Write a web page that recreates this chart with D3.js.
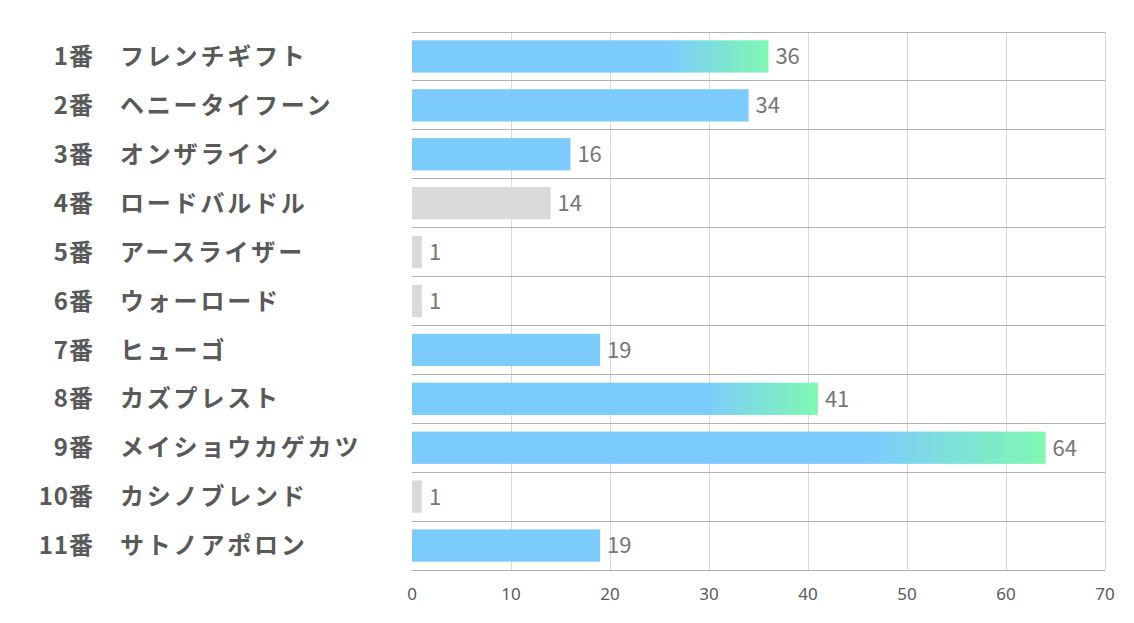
<!DOCTYPE html>
<html><head><meta charset="utf-8">
<script src="https://cdn.jsdelivr.net/npm/d3@7"></script>
<style>body{margin:0;background:#fff;}svg{display:block;}</style>
</head><body>
<svg id="c" width="1134" height="623"></svg>
<script>
const numbers = ["1番","2番","3番","4番","5番","6番","7番","8番","9番","10番","11番"];
const names = ["フレンチギフト","ヘニータイフーン","オンザライン","ロードバルドル","アースライザー","ウォーロード","ヒューゴ","カズプレスト","メイショウカゲカツ","カシノブレンド","サトノアポロン"];
const values = [36,34,16,14,1,1,19,41,64,1,19];
const colorType = ["grad","blue","blue","gray","gray","gray","blue","grad","grad","gray","blue"];
const ticks = [0,10,20,30,40,50,60,70];

const svg = d3.select("#c");
const L = 412, R = 1105, T = 32, B = 570;
const x = d3.scaleLinear().domain([0,70]).range([L,R]);
const y = d3.scaleBand().domain(d3.range(values.length)).range([T,B]).paddingInner(0.34).paddingOuter(0.17);
const step = y.step();
const font = "'Noto Sans CJK JP','Noto Sans',sans-serif";

const defs = svg.append("defs");
values.forEach((v,i)=>{
  if(colorType[i]!=="grad") return;
  const g = defs.append("linearGradient").attr("id","g"+i).attr("x1","0").attr("x2","1").attr("y1","0").attr("y2","0");
  g.append("stop").attr("offset","0").attr("stop-color","#7ccbfd");
  g.append("stop").attr("offset","0.72").attr("stop-color","#7ccbfd");
  g.append("stop").attr("offset","1").attr("stop-color","#7ff8b2");
});

// vertical grid
svg.append("g").selectAll("line").data(ticks).join("line")
  .attr("x1",d=>x(d)).attr("x2",d=>x(d)).attr("y1",T).attr("y2",B)
  .attr("stroke",d=>d===0?"none":"#d9d9d9").attr("stroke-width",1).attr("shape-rendering","crispEdges");

// horizontal row lines
svg.append("g").selectAll("line").data(d3.range(values.length+1)).join("line")
  .attr("x1",L).attr("x2",R)
  .attr("y1",d=>T+d*step).attr("y2",d=>T+d*step)
  .attr("stroke","#b0b0b0").attr("stroke-width",1).attr("shape-rendering","crispEdges");

// bars
svg.append("g").selectAll("rect").data(values).join("rect")
  .attr("x",x(0)).attr("y",(d,i)=>y(i))
  .attr("width",d=>x(d)-x(0)).attr("height",y.bandwidth())
  .attr("fill",(d,i)=>colorType[i]==="grad"?`url(#g${i})`:(colorType[i]==="blue"?"#7ccbfd":"#d9d9d9"));

// value labels
svg.append("g").selectAll("text").data(values).join("text")
  .attr("x",d=>x(d)+7).attr("y",(d,i)=>y(i)+y.bandwidth()/2)
  .attr("dy","0.36em").attr("font-family",font).attr("font-size",22)
  .attr("fill","#767676").text(d=>d);

// category labels
svg.append("g").selectAll("text").data(numbers).join("text")
  .attr("x",94).attr("y",(d,i)=>y(i)+y.bandwidth()/2).attr("dy","0.36em")
  .attr("text-anchor","end").attr("font-family",font).attr("font-size",24).attr("font-weight","bold")
  .attr("letter-spacing",1).attr("fill","#595959").text(d=>d);
svg.append("g").selectAll("text").data(names).join("text")
  .attr("x",120).attr("y",(d,i)=>y(i)+y.bandwidth()/2).attr("dy","0.36em")
  .attr("font-family",font).attr("font-size",24).attr("font-weight","bold")
  .attr("letter-spacing",2.8).attr("fill","#595959").text(d=>d);

// x axis tick labels
svg.append("g").selectAll("text").data(ticks).join("text")
  .attr("x",d=>x(d)).attr("y",594).attr("dy","0.36em").attr("text-anchor","middle")
  .attr("font-family","'Noto Sans',sans-serif").attr("font-size",17).attr("fill","#595959").text(d=>d);
</script>
</body></html>
